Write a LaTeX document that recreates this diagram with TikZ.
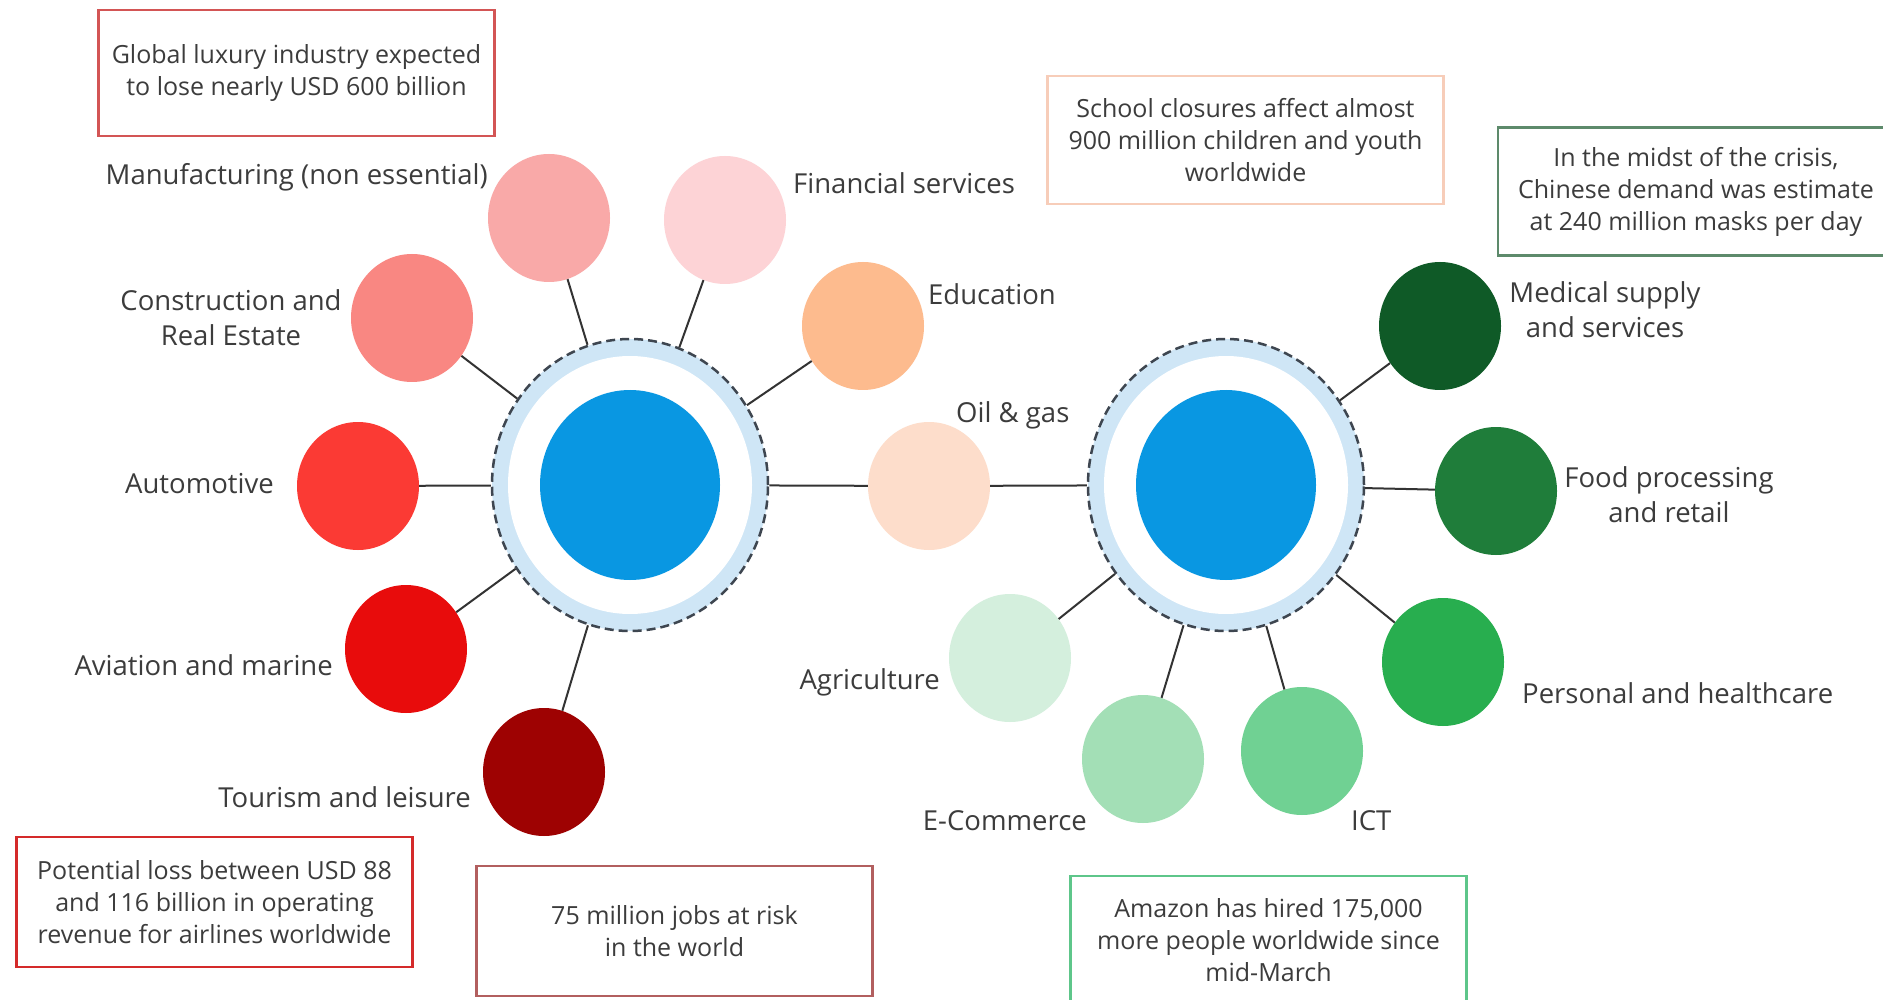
\documentclass[tikz,border=0pt]{standalone}
\usepackage{fontspec}
\setmainfont{Open Sans}
\usetikzlibrary{shapes.geometric}
\definecolor{txtgray}{HTML}{3C3C3C}
\definecolor{linegray}{HTML}{333333}
\definecolor{hubblue}{HTML}{0997E2}
\definecolor{ringblue}{HTML}{CFE6F6}
\definecolor{dashgray}{HTML}{3E4650}
\definecolor{manufC}{HTML}{F9A9A8}
\definecolor{finC}{HTML}{FDD3D6}
\definecolor{consC}{HTML}{F98782}
\definecolor{eduC}{HTML}{FDBB8E}
\definecolor{autoC}{HTML}{FB3A34}
\definecolor{oilC}{HTML}{FDDDCB}
\definecolor{aviaC}{HTML}{E80C0C}
\definecolor{tourC}{HTML}{9E0202}
\definecolor{medC}{HTML}{0F5A27}
\definecolor{foodC}{HTML}{1F7D3A}
\definecolor{persC}{HTML}{28AE4F}
\definecolor{agriC}{HTML}{D4EFDD}
\definecolor{ecomC}{HTML}{A3DFB6}
\definecolor{ictC}{HTML}{70D193}
\definecolor{boxA}{HTML}{D35555}
\definecolor{boxB}{HTML}{F7CDB9}
\definecolor{boxC}{HTML}{5D8A6B}
\definecolor{boxD}{HTML}{D42A2A}
\definecolor{boxE}{HTML}{B25F5F}
\definecolor{boxF}{HTML}{5EC68A}
\tikzset{
  sat/.style={ellipse, minimum width=122pt, minimum height=128pt, inner sep=0pt, draw=none},
  lbl/.style={font=\fontsize{27.5}{35}\selectfont, text=txtgray, align=center, inner sep=0pt},
  infobox/.style={draw, line width=2.5pt, minimum width=396pt, minimum height=128pt, align=center,
    font=\fontsize{25}{32}\selectfont, text=txtgray, inner sep=0pt},
  conn/.style={line width=2pt, draw=linegray},
  hubring/.style={ellipse, minimum width=276pt, minimum height=292pt, inner sep=0pt,
    fill=ringblue, draw=dashgray, line width=2.5pt, dash pattern=on 9pt off 5pt},
  hubwhite/.style={ellipse, minimum width=244pt, minimum height=258pt, inner sep=0pt, fill=white},
  hubcore/.style={ellipse, minimum width=180pt, minimum height=190pt, inner sep=0pt, fill=hubblue}
}
\begin{document}
\begin{tikzpicture}[x=1pt,y=-1pt]
\useasboundingbox (0,0) rectangle (1883,1000);
\fill[white] (0,0) rectangle (1883,1000);

% hubs
\node[hubring] (Lring) at (630,485) {};
\node[hubwhite] (Lwhite) at (630,485) {};
\node[hubcore] (Lcore) at (630,485) {};
\node[hubring] (Rring) at (1226,485) {};
\node[hubwhite] (Rwhite) at (1226,485) {};
\node[hubcore] (Rcore) at (1226,485) {};

% satellites left
\node[sat, fill=manufC] (manuf) at (549,218) {};
\node[sat, fill=finC] (fin) at (725,220) {};
\node[sat, fill=consC] (cons) at (412,318) {};
\node[sat, fill=eduC] (edu) at (863,326) {};
\node[sat, fill=autoC] (auto) at (358,486) {};
\node[sat, fill=oilC] (oil) at (929,486) {};
\node[sat, fill=aviaC] (avia) at (406,649) {};
\node[sat, fill=tourC] (tour) at (544,772) {};
% satellites right
\node[sat, fill=medC] (med) at (1440,326) {};
\node[sat, fill=foodC] (food) at (1496,491) {};
\node[sat, fill=persC] (pers) at (1443,662) {};
\node[sat, fill=agriC] (agri) at (1010,658) {};
\node[sat, fill=ecomC] (ecom) at (1143,759) {};
\node[sat, fill=ictC] (ict) at (1302,751) {};

% connectors
\foreach \s in {manuf,fin,cons,edu,auto,avia,tour,oil}
  \draw[conn] (\s) -- (Lring);
\foreach \s in {med,food,pers,agri,ecom,ict,oil}
  \draw[conn] (\s) -- (Rring);

% labels
\node[lbl, anchor=east] (lmanuf) at (488,177) {Manufacturing (non essential)};
\node[lbl, anchor=west] (lfin) at (793,183) {Financial services};
\node[lbl] (lcons) at (231,318) {Construction and\\Real Estate};
\node[lbl, anchor=west] (ledu) at (928,294) {Education};
\node[lbl, anchor=east] (lauto) at (274,484) {Automotive};
\node[lbl, anchor=west] (loil) at (956,415) {Oil \& gas};
\node[lbl, anchor=east] (lavia) at (333,665) {Aviation and marine};
\node[lbl, anchor=east] (ltour) at (471,797) {Tourism and leisure};
\node[lbl] (lmed) at (1605,310) {Medical supply\\and services};
\node[lbl] (lfood) at (1669,495) {Food processing\\and retail};
\node[lbl, anchor=west] (lpers) at (1522,693) {Personal and healthcare};
\node[lbl, anchor=east] (lagri) at (940,682) {Agriculture};
\node[lbl, anchor=east] (lecom) at (1087,821) {E-Commerce};
\node[lbl, anchor=west] (lict) at (1351,821) {ICT};

% info boxes
\node[infobox, draw=boxA, minimum height=126pt] (bA) at (296.5,73) {Global luxury industry expected\\to lose nearly USD 600 billion};
\node[infobox, draw=boxB] (bB) at (1245.5,140) {School closures affect almost\\900 million children and youth\\worldwide};
\node[infobox, draw=boxC] (bC) at (1696,191.5) {In the midst of the crisis,\\Chinese demand was estimate\\at 240 million masks per day};
\node[infobox, draw=boxD, minimum height=130pt] (bD) at (214.5,902) {Potential loss between USD 88\\and 116 billion in operating\\revenue for airlines worldwide};
\node[infobox, draw=boxE, minimum height=130pt] (bE) at (674.5,931) {75 million jobs at risk\\in the world};
\node[infobox, draw=boxF] (bF) at (1268.5,940) {Amazon has hired 175,000\\more people worldwide since\\mid-March};
\end{tikzpicture}
\end{document}
